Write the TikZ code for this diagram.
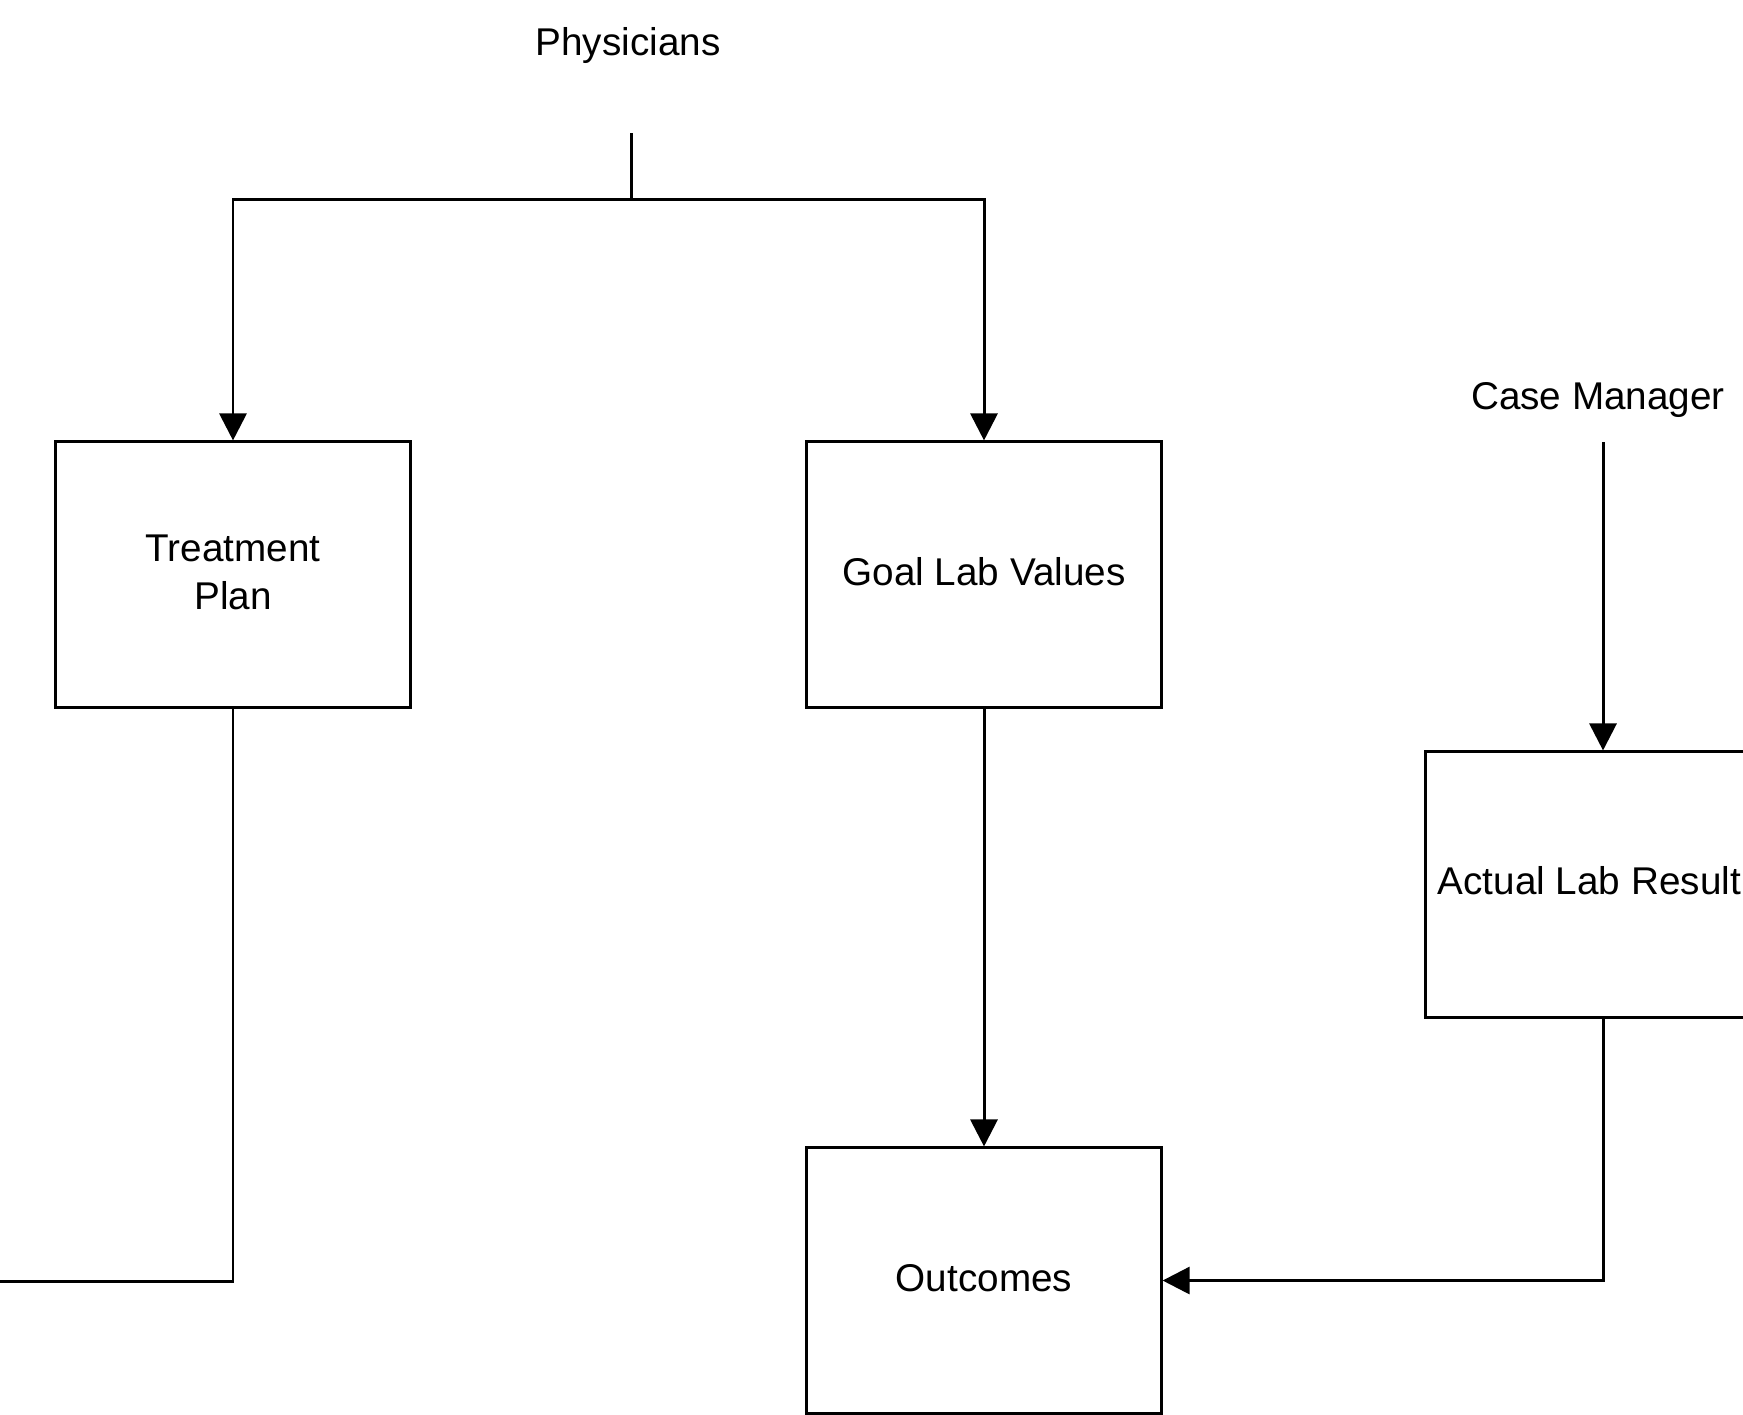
\documentclass[tikz,border=0pt]{standalone}
\usepackage{fontspec}
\setmainfont{Liberation Sans}
\usetikzlibrary{arrows.meta}
\begin{document}
\begin{tikzpicture}[x=0.01cm,y=-0.01cm,
  font=\fontsize{11}{13.6}\selectfont,
  box/.style={draw, line width=0.85pt, minimum width=3.54cm, minimum height=2.65cm, align=center, inner sep=0pt},
  conn/.style={line width=0.85pt},
  arr/.style={conn, -{Triangle[length=0.27cm,width=0.27cm]}}]
\useasboundingbox (0,0) rectangle (1743,1414);
\node[anchor=base] (phys) at (628,55) {Physicians};
\node (cm) at (1598,400) {Case Manager};
\node[box] (tp) at (233,574.5) {};
\node[align=center] (tptxt) at (233,572) {Treatment\\Plan};
\node[box] (goal) at (984,574.5) {};
\node (goaltxt) at (984,572) {Goal Lab Values};
\node[box] (out) at (984,1280.5) {};
\node (outtxt) at (984,1278) {Outcomes};
\node[box] (act) at (1603,884.5) {};
\node[anchor=west, inner sep=0pt] (acttxt) at (1437,881) {Actual Lab Result};
\coordinate (ptop) at (631,133);
\coordinate (pj) at (631,199);
\coordinate (cmtop) at (1603,442);
\coordinate (leftend) at (0,1281);
\draw[conn] (ptop) -- (pj);
\draw[arr] (pj) -| (tp.north);
\draw[arr] (pj) -| (goal.north);
\draw[arr] (cmtop) -- (act.north);
\draw[arr] (goal.south) -- (out.north);
\draw[conn] (tp.south) |- (leftend);
\draw[arr] (act.south) |- (out.east);
\end{tikzpicture}
\end{document}
